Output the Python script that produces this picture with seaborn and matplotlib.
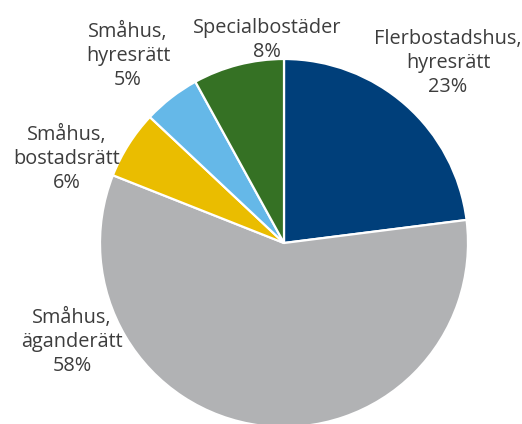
import matplotlib
matplotlib.use("Agg")
import matplotlib.pyplot as plt
import seaborn as sns

# Housing stock by type of tenure, share in percent
categories = [
    "Flerbostadshus,\nhyresrätt",
    "Småhus,\näganderätt",
    "Småhus,\nbostadsrätt",
    "Småhus,\nhyresrätt",
    "Specialbostäder",
]
shares = [23, 58, 6, 5, 8]
colors = ["#003f7a", "#b1b2b4", "#eabd00", "#65b8e8", "#357124"]

# label anchor positions (pixel grid of the canvas, y downward)
label_x = [448, 72, 67, 128, 267]
label_y = [63, 342, 159, 56, 40]

sns.set_theme(style="white")
plt.rcParams["font.family"] = ["Open Sans", "DejaVu Sans"]

W, H = 522, 424
fig = plt.figure(figsize=(W / 100, H / 100), dpi=100)
ax = fig.add_axes([0, 0, 1, 1])

cx, cy, r = 284, H - 243, 184
ax.pie(
    shares,
    colors=colors,
    startangle=90,
    counterclock=False,
    center=(cx, cy),
    radius=r,
    frame=True,
    wedgeprops=dict(edgecolor="white", linewidth=1.6),
)
ax.set_xlim(0, W)
ax.set_ylim(0, H)
ax.set_aspect("equal")
ax.axis("off")

for cat, val, x, y in zip(categories, shares, label_x, label_y):
    ax.text(
        x, H - y, f"{cat}\n{val}%",
        ha="center", va="center", multialignment="center",
        fontsize=14.3, color="#3d3d3d", linespacing=1.26,
    )

fig.savefig("out.png", dpi=100)
